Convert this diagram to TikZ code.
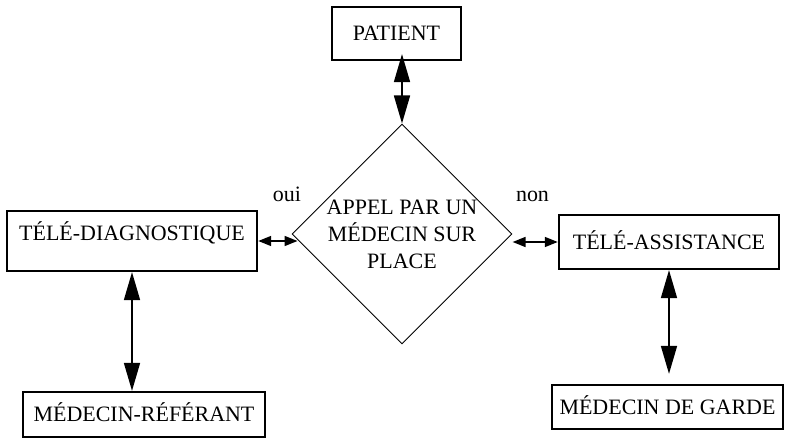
\documentclass[tikz,border=0pt]{standalone}
\usepackage{fontspec}
\setmainfont{Liberation Serif}
\usetikzlibrary{shapes.geometric,arrows.meta}

\begin{document}
\begin{tikzpicture}[x = 0.02cm, y = -0.02cm, font = \fontsize{12.5}{15.4}\selectfont,
  box/.style = {draw, line width = 1.2pt, inner sep = 0pt, text height = 8pt, text depth = 0pt},
  bigarrow/.style = {{Triangle[length=16pt,width=9pt]}-{Triangle[length=16pt,width=9pt]}, line width = 1.3pt},
  smallarrow/.style = {{Triangle[length=7.5pt,width=5.5pt]}-{Triangle[length=7.5pt,width=5.5pt]}, line width = 1.4pt}]
\useasboundingbox (0,0) rectangle (785,438);
\node [box, minimum width = 2.58cm, minimum height = 1.06cm] (patient) at (396.5,33.5) {PATIENT};
\node [draw, diamond, line width = 0.5pt, minimum width = 4.4cm, minimum height = 4.4cm, inner sep = 0pt, align = center] (appel) at (402,234) {APPEL PAR UN\\MÉDECIN SUR\\PLACE};
\node [box, minimum width = 5cm, minimum height = 1.2cm, text height = 9pt, text depth = 9pt] (diag) at (132,241) {TÉLÉ-DIAGNOSTIQUE};
\node [box, minimum width = 4.4cm, minimum height = 1.08cm] (assist) at (669,242) {TÉLÉ-ASSISTANCE};
\node [box, minimum width = 4.84cm, minimum height = 0.9cm] (referant) at (144,414.5) {MÉDECIN-RÉFÉRANT};
\node [box, minimum width = 4.62cm, minimum height = 0.88cm] (garde) at (667.5,407) {MÉDECIN DE GARDE};
\node [anchor = base] (oui) at (287,202) {oui};
\node [anchor = base] (non) at (532.5,202) {non};
% connectors
\draw [bigarrow, shorten <= -4pt] (appel.north |- patient.south) -- (appel.north);
\draw [smallarrow, shorten >= -3.5pt] (diag.east) -- (diag.east -| appel.west);
\draw [smallarrow] (assist.west -| appel.east) -- (assist.west);
\draw [bigarrow] (diag.south) -- (diag.south |- referant.north);
\draw [bigarrow, shorten >= 5.7pt] (assist.south) -- (assist.south |- garde.north);
\end{tikzpicture}
\end{document}
